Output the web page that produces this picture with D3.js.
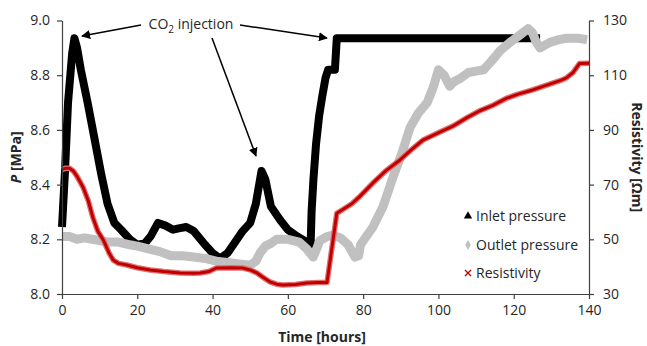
<!DOCTYPE html>
<html>
<head>
<meta charset="utf-8">
<script src="https://cdn.jsdelivr.net/npm/d3@7"></script>
<style>
  body { margin: 0; background: #fff; }
  text { font-family: "Open Sans", sans-serif; }
  .tick text { font-size: 14px; fill: #262626; }
  .axis path, .axis line { stroke: #404040; stroke-width: 1.2; }
  .graph-axis-label { font-size: 14px; font-weight: bold; fill: #262626; }
</style>
</head>
<body>
<div id="chart"></div>
<script>
// Inlet pressure (MPa)
var inletTime = [0, 0.8, 1.6, 2.7, 3.3, 4.0, 5.0, 6.8, 8.6, 10.4, 12.1, 13.9, 15.7, 18, 20, 22, 23.5, 25.5, 27.5, 29.5, 31, 33, 35, 38, 40, 42, 44, 46, 48, 50, 51.5, 53, 54, 55.5, 58, 60, 62.5, 65, 66, 66.3, 66.8, 67.5, 68.3, 69.1, 70, 70.7, 72.5, 73, 80, 90, 100, 110, 120, 127];
var inletP = [8.245, 8.45, 8.70, 8.88, 8.935, 8.90, 8.82, 8.70, 8.57, 8.44, 8.33, 8.26, 8.235, 8.20, 8.18, 8.185, 8.21, 8.26, 8.25, 8.235, 8.24, 8.245, 8.23, 8.18, 8.15, 8.13, 8.15, 8.19, 8.23, 8.26, 8.33, 8.45, 8.42, 8.32, 8.27, 8.235, 8.21, 8.19, 8.155, 8.3, 8.42, 8.55, 8.65, 8.72, 8.79, 8.82, 8.82, 8.935, 8.935, 8.935, 8.935, 8.935, 8.935, 8.935];

// Outlet pressure (MPa)
var outletTime = [0, 2, 4, 6, 8, 10, 12, 15, 18, 20, 23, 26, 29, 32, 35, 38, 41, 44, 47, 50, 51.5, 52.6, 54, 55.5, 57, 60, 63, 65, 66.7, 67.5, 68.5, 70.4, 72, 74, 76, 77.8, 78.8, 79.3, 82.6, 85.3, 88, 90.3, 92.5, 94.6, 97, 98.6, 100, 101.5, 103, 104, 106, 108, 110, 112, 114, 116.4, 119, 121, 123.8, 125, 126, 127, 129.6, 132, 134, 137, 139.5];
var outletP = [8.21, 8.21, 8.2, 8.205, 8.2, 8.195, 8.19, 8.19, 8.18, 8.175, 8.165, 8.155, 8.14, 8.14, 8.135, 8.13, 8.12, 8.115, 8.11, 8.105, 8.12, 8.15, 8.175, 8.185, 8.2, 8.2, 8.19, 8.165, 8.135, 8.16, 8.195, 8.21, 8.215, 8.205, 8.18, 8.135, 8.14, 8.18, 8.245, 8.32, 8.43, 8.515, 8.61, 8.66, 8.70, 8.755, 8.82, 8.80, 8.76, 8.775, 8.79, 8.81, 8.815, 8.82, 8.85, 8.89, 8.92, 8.94, 8.97, 8.955, 8.92, 8.90, 8.92, 8.93, 8.935, 8.935, 8.93];

// Resistivity (Ohm m)
var resTime = [0, 1, 2, 3, 4, 5.6, 7, 8.2, 9.5, 11, 12.5, 13.6, 15, 17.2, 20, 23.4, 27, 31.4, 35, 36.7, 39, 41, 45, 48, 50, 51.8, 53.5, 55.3, 57, 58.7, 62, 65, 68, 70.4, 71, 72, 73, 74.7, 77, 79, 82.6, 86, 89.8, 93, 95.9, 100.4, 104, 107.6, 111, 114.5, 118, 121, 125, 128, 132.3, 134, 135.8, 137.5, 140];
var resVal = [75.5, 76, 76, 75, 73, 69, 64, 58, 53, 49.7, 45, 42.4, 41.2, 40.6, 39.6, 38.8, 38.2, 37.7, 37.6, 37.7, 38.2, 39.5, 39.6, 39.5, 38.8, 37.7, 36, 34.4, 33.6, 33.3, 33.5, 34, 34.2, 34.2, 40, 49.7, 59.5, 61, 63, 65.5, 70.6, 75, 79, 83, 86.3, 89.2, 91.5, 94.5, 97, 99, 101.5, 103, 104.6, 106, 108, 109, 111, 114.3, 114.4];

var timeTicks = [0, 20, 40, 60, 80, 100, 120, 140];
var pTicks = [8.0, 8.2, 8.4, 8.6, 8.8, 9.0];
var resTicks = [30, 50, 70, 90, 110, 130];
var legendLabels = ["Inlet pressure", "Outlet pressure", "Resistivity"];

var W = 647, H = 346;
var plotL = 62, plotR = 589, plotT = 20.5, plotB = 294;

var svg = d3.select("#chart").append("svg")
    .attr("width", W)
    .attr("height", H);

var x = d3.scaleLinear().domain([0, 140]).range([plotL, plotR]);
var yP = d3.scaleLinear().domain([8, 9]).range([plotB, plotT]);
var yR = d3.scaleLinear().domain([30, 130]).range([plotB, plotT]);

// series
function zipLine(ts, vs, ys) {
    return d3.line()
        .x(function(d, i) { return x(ts[i]); })
        .y(function(d, i) { return ys(vs[i]); })(vs);
}

svg.append("path")
    .attr("d", zipLine(inletTime, inletP, yP))
    .attr("fill", "none")
    .attr("stroke", "#000")
    .attr("stroke-width", 8)
    .attr("stroke-linejoin", "round");

svg.append("path")
    .attr("d", zipLine(outletTime, outletP, yP))
    .attr("fill", "none")
    .attr("stroke", "#c0c0c0")
    .attr("stroke-width", 9)
    .attr("stroke-linejoin", "round");

// resistivity: light rim + dark core to mimic the dense x markers
svg.append("path")
    .attr("d", zipLine(resTime, resVal, yR))
    .attr("fill", "none")
    .attr("stroke", "#e07070")
    .attr("stroke-width", 5.5)
    .attr("stroke-linejoin", "round");
svg.append("path")
    .attr("d", zipLine(resTime, resVal, yR))
    .attr("fill", "none")
    .attr("stroke", "#c00000")
    .attr("stroke-width", 3)
    .attr("stroke-linejoin", "round");

// axes
svg.append("g")
    .attr("class", "axis")
    .attr("transform", "translate(0," + plotB + ")")
    .call(d3.axisBottom(x).tickValues(timeTicks).tickSize(5).tickSizeOuter(0).tickPadding(6));

svg.append("g")
    .attr("class", "axis")
    .attr("transform", "translate(" + plotL + ",0)")
    .call(d3.axisLeft(yP).tickValues(pTicks).tickFormat(d3.format(".1f")).tickSize(5).tickSizeOuter(0).tickPadding(7));

svg.append("g")
    .attr("class", "axis")
    .attr("transform", "translate(" + plotR + ",0)")
    .call(d3.axisRight(yR).tickValues(resTicks).tickSize(5).tickSizeOuter(0).tickPadding(9));

svg.selectAll(".axis").attr("font-family", null).attr("font-size", null);

// axis labels
svg.append("text")
    .attr("class", "graph-axis-label")
    .attr("x", 322)
    .attr("y", 342)
    .style("text-anchor", "middle")
    .text("Time [hours]");

var pl = svg.append("text")
    .attr("class", "graph-axis-label")
    .attr("transform", "translate(21," + ((plotT + plotB) / 2) + ") rotate(-90)")
    .style("text-anchor", "middle");
pl.append("tspan").style("font-style", "italic").text("P");
pl.append("tspan").text(" [MPa]");

svg.append("text")
    .attr("class", "graph-axis-label")
    .attr("transform", "translate(632," + ((plotT + plotB) / 2) + ") rotate(90)")
    .style("text-anchor", "middle")
    .text("Resistivity [Ωm]");

// legend
var lg = svg.append("g");
var ly = [216, 245, 273];
lg.append("path")
    .attr("d", d3.symbol(d3.symbolTriangle, 30)())
    .attr("transform", "translate(468," + ly[0] + ")")
    .attr("fill", "#000");
lg.append("path")
    .attr("d", d3.symbol(d3.symbolDiamond, 28)())
    .attr("transform", "translate(468," + ly[1] + ")")
    .attr("fill", "#c0c0c0");
lg.append("path")
    .attr("d", d3.symbol(d3.symbolX, 26)())
    .attr("transform", "translate(468," + ly[2] + ")")
    .attr("stroke", "#c00000")
    .attr("stroke-width", 1.3)
    .attr("fill", "none");
legendLabels.forEach(function(t, i) {
    lg.append("text")
        .attr("x", 476)
        .attr("y", ly[i] + 5)
        .style("font-size", "14px")
        .style("fill", "#262626")
        .text(t);
});

// annotation
svg.append("defs").append("marker")
    .attr("id", "arr")
    .attr("viewBox", "0 0 10 10")
    .attr("refX", 9).attr("refY", 5)
    .attr("markerWidth", 6).attr("markerHeight", 6)
    .attr("orient", "auto")
  .append("path")
    .attr("d", "M0,0L10,5L0,10z")
    .attr("fill", "#000");

var arrows = [[141, 25, 82, 36], [212, 38, 256, 156], [240, 25, 327, 38]];
arrows.forEach(function(a) {
    svg.append("line")
        .attr("x1", a[0]).attr("y1", a[1])
        .attr("x2", a[2]).attr("y2", a[3])
        .attr("stroke", "#000")
        .attr("stroke-width", 1.5)
        .attr("marker-end", "url(#arr)");
});

var co2 = svg.append("text")
    .attr("x", 191)
    .attr("y", 29)
    .style("text-anchor", "middle")
    .style("font-size", "14px")
    .style("fill", "#262626");
co2.append("tspan").text("CO");
co2.append("tspan").attr("dy", 4).style("font-size", "10px").text("2");
co2.append("tspan").attr("dy", -4).text(" injection");
</script>
</body>
</html>
